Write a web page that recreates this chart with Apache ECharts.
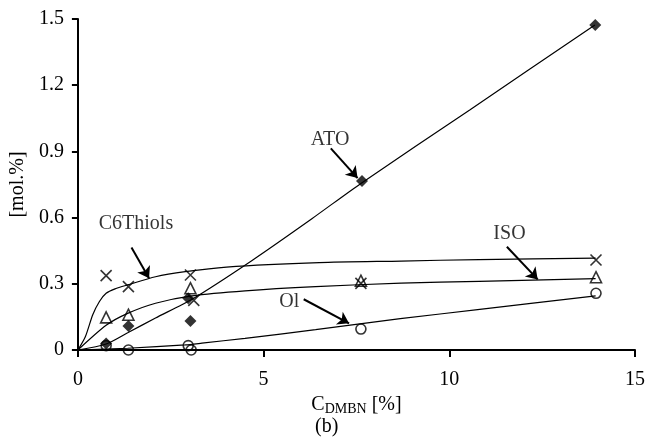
<!DOCTYPE html>
<html>
<head>
<meta charset="utf-8">
<script src="https://cdn.jsdelivr.net/npm/echarts@6/dist/echarts.min.js"></script>
<style>html,body{margin:0;padding:0;background:#fff;}#c{width:648px;height:437px;}</style>
</head>
<body>
<div id="c"></div>
<script>
// ---- axis ticks ----
const xMin = 0, xMax = 15, xStep = 5;
const yMin = 0, yMax = 1.5, yStep = 0.3;

// ---- measured points [C_DMBN %, mol.%] ----
const c6ThiolsPts = [[0.76,0.337],[1.36,0.287],[3.03,0.34],[3.12,0.225],[7.62,0.302],[13.95,0.408]];
const isoPts      = [[0.76,0.148],[1.36,0.16],[3.03,0.28],[7.62,0.314],[13.95,0.33]];
const atoPts      = [[0.76,0.03],[1.36,0.109],[2.97,0.235],[3.03,0.131],[7.65,0.766],[13.93,1.473]];
const olPts       = [[0.76,0.02],[1.36,0.0],[2.97,0.02],[3.05,0.0],[7.62,0.095],[13.95,0.257]];

// ---- fitted curves ----
const c6ThiolsCurve = [[0,0],[0.2,0.06],[0.4,0.16],[0.58,0.22],[0.76,0.257],[1.0,0.277],[1.34,0.295],[2.09,0.332],[2.89,0.355],[4,0.376],[6.5,0.396],[8.7,0.403],[10.8,0.41],[13.94,0.416]];
const isoCurve      = [[0,0],[0.76,0.112],[1.34,0.166],[2.09,0.212],[3.07,0.245],[4.5,0.268],[6.4,0.287],[8.7,0.303],[10.8,0.311],[13.94,0.323]];
const atoCurve      = [[0,0],[0.76,0.027],[1.34,0.078],[2.09,0.145],[3.07,0.23],[4.68,0.405],[6.3,0.595],[7.62,0.755],[10.55,1.088],[13.92,1.473]];
const olCurve       = [[0,0],[1.34,0.008],[2.89,0.023],[3.34,0.031],[4.5,0.053],[6.4,0.092],[8.68,0.142],[10.82,0.184],[13.94,0.245]];

// ---- annotations ----
const labelNames = ['C6Thiols','ATO','ISO','Ol'];
const labelPos   = [[1.563,0.571],[6.79,0.952],[11.62,0.526],[5.69,0.2175]];
const arrowFrom  = [[1.443,0.464],[6.81,0.914],[11.55,0.468],[6.08,0.230]];
const arrowTo    = [[1.916,0.325],[7.53,0.779],[12.38,0.320],[7.30,0.121]];

const FONT = '"Liberation Serif","Times New Roman",serif';
const chart = echarts.init(document.getElementById('c'), null, {renderer:'canvas'});

function curve(data){
  return {type:'line', data:data, showSymbol:false, smooth:0.25,
    lineStyle:{color:'#000', width:1.2}, silent:true, z:2};
}
function marks(data, symbol, size, filled){
  return {type:'scatter', data:data, symbol:symbol, symbolSize:size, z:5,
    itemStyle: filled ? {color:'#000'} : {color:'rgba(0,0,0,0)', borderColor:'#000', borderWidth:1.6}};
}

const option = {
  animation:false,
  backgroundColor:'#fff',
  grid:{left:75, right:11, top:19, bottom:87},
  xAxis:{
    type:'value', min:xMin, max:xMax, interval:xStep,
    name:'C{sub|DMBN} [%]', nameLocation:'middle', nameGap:30,
    nameTextStyle:{fontFamily:FONT, fontSize:20, color:'#000',
      rich:{sub:{fontFamily:FONT, fontSize:14, color:'#000', padding:[8,0,0,0]}}},
    axisLine:{show:true, onZero:false, lineStyle:{color:'#000', width:2}},
    axisTick:{show:true, length:7, lineStyle:{color:'#000', width:2}},
    axisLabel:{fontFamily:FONT, fontSize:20, color:'#000', margin:20},
    splitLine:{show:false}
  },
  yAxis:{
    type:'value', min:yMin, max:yMax, interval:yStep,
    name:'[mol.%]', nameLocation:'middle', nameGap:44, nameRotate:90,
    nameTextStyle:{fontFamily:FONT, fontSize:20, color:'#000'},
    axisLine:{show:true, onZero:false, lineStyle:{color:'#000', width:2}},
    axisTick:{show:true, length:6, lineStyle:{color:'#000', width:2}},
    axisLabel:{fontFamily:FONT, fontSize:20, color:'#000', margin:14},
    splitLine:{show:false}
  },
  graphic:[{type:'text', left:315, top:417, style:{text:'(b)', font:'20px '+FONT, fill:'#000'}}],
  series:[
    curve(c6ThiolsCurve), curve(isoCurve), curve(atoCurve), curve(olCurve),
    marks(c6ThiolsPts, 'path://M0,0L10,10M10,0L0,10', 11, false),
    marks(isoPts, 'triangle', 11, false),
    marks(atoPts, 'diamond', 12, true),
    marks(olPts, 'circle', 10, false),
    {
      type:'scatter', symbolSize:0, z:6, silent:true,
      data: labelNames.map((n,i)=>({name:n, value:labelPos[i]})),
      label:{show:true, position:'inside', formatter:'{b}', fontFamily:FONT, fontSize:20, color:'#000'},
      markLine:{
        silent:true, symbol:['none','arrow'], symbolSize:11,
        label:{show:false},
        lineStyle:{color:'#000', width:2, type:'solid'},
        data: arrowFrom.map((f,i)=>[{coord:f},{coord:arrowTo[i]}])
      }
    }
  ]
};
chart.setOption(option);
</script>
</body>
</html>
